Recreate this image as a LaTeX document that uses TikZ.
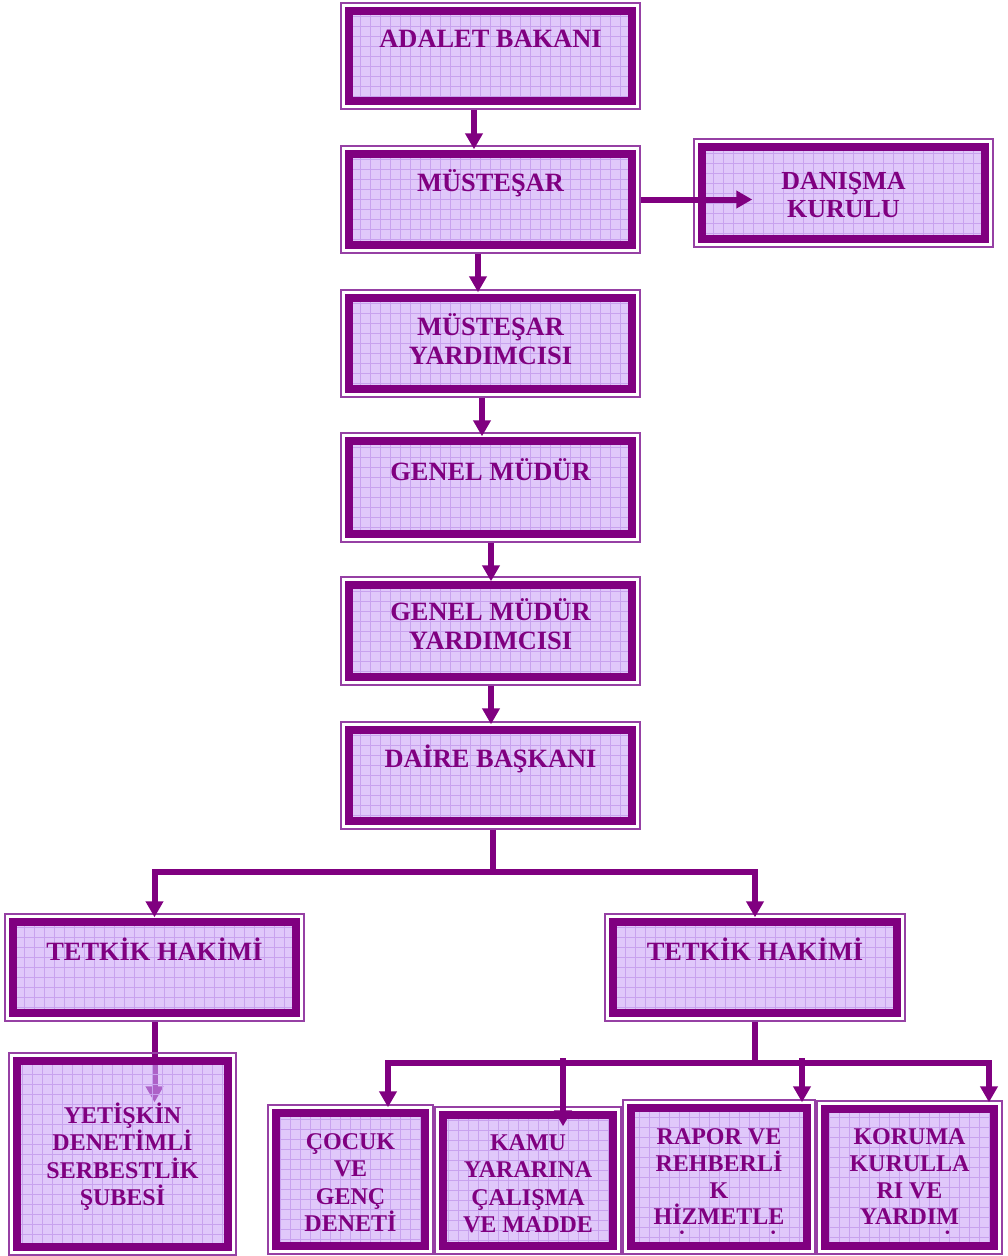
\documentclass[tikz,border=0pt]{standalone}
\usepackage{fontspec}
\setmainfont{Liberation Serif}
\usetikzlibrary{arrows.meta}
\pgfdeclarelayer{background}
\pgfsetlayers{background,main}
\definecolor{purp}{HTML}{800080}
\definecolor{rim}{RGB}{150,64,164}
\definecolor{lav}{HTML}{E0C8FA}
\definecolor{lavT}{HTML}{CBA3F7}
\definecolor{gridc}{HTML}{C8A2EE}
% fixed first-line height so every label hangs from the same point
\newcommand{\lstrut}{\rule{0pt}{0.95em}}

\begin{document}
\begin{tikzpicture}[x=1pt,y=-1pt,
  boxfill/.style={fill=lav},
  orgbox/.style={draw=rim, line width=1.4pt, inner sep=0pt, rectangle,
    path picture={
      \path[boxfill] ([shift={(10pt,-10pt)}]path picture bounding box.north west)
        rectangle ([shift={(-10pt,10pt)}]path picture bounding box.south east);
      \draw[gridc, line width=0.8pt, step=10pt]
        ([shift={(10pt,-10pt)}]path picture bounding box.north west)
        grid ([shift={(-10pt,10pt)}]path picture bounding box.south east);
      \draw[purp, line width=8pt]
        ([shift={(8pt,-8pt)}]path picture bounding box.north west)
        rectangle ([shift={(-8pt,8pt)}]path picture bounding box.south east);
    }},
  toptext/.style={text=purp, font=\bfseries\fontsize{26.4}{29.5}\selectfont,
    align=center, anchor=north, inner sep=0pt},
  bottext/.style={toptext, font=\bfseries\fontsize{24}{27.4}\selectfont},
  line/.style={draw=purp, line width=6pt, line join=miter},
  conn/.style={line, -{Triangle[width=17pt,length=16pt]}},
  conn2/.style={line, {Triangle[width=17pt,length=16pt]}-{Triangle[width=17pt,length=16pt]}}
]
\useasboundingbox (0,0) rectangle (1007,1256);

% central chain of offices
\node[orgbox, minimum width=299pt, minimum height=106pt] (adalet) at (490.5,56) {};
\node[orgbox, minimum width=299pt, minimum height=107pt] (musteshar) at (490.5,199.5) {};
\node[orgbox, minimum width=299pt, minimum height=108pt] (danisma) at (843.5,193) {};
\node[orgbox, minimum width=299pt, minimum height=107pt] (muy) at (490.5,343.5) {};
\node[orgbox, minimum width=299pt, minimum height=109pt] (genel) at (490.5,487.5) {};
\node[orgbox, minimum width=299pt, minimum height=108pt] (gmy) at (490.5,631) {};
\node[orgbox, minimum width=299pt, minimum height=107pt] (daire) at (490.5,775.5) {};
\node[orgbox, minimum width=299pt, minimum height=107pt] (tetkikL) at (154.5,967.5) {};
\node[orgbox, minimum width=300pt, minimum height=107pt] (tetkikR) at (755,967.5) {};

% branch offices
\node[orgbox, boxfill/.style={fill=lavT, fill opacity=0.6},
      minimum width=227pt, minimum height=202pt] (yetiskin) at (122.5,1154) {};
\node[orgbox, minimum width=165pt, minimum height=149pt] (cocuk) at (350.5,1179.5) {};
\node[orgbox, minimum width=186pt, minimum height=147pt] (kamu) at (528,1180.5) {};
\node[orgbox, minimum width=192pt, minimum height=154pt] (rapor) at (719,1177) {};
\node[orgbox, minimum width=185pt, minimum height=153pt] (koruma) at (909.5,1177.5) {};

% labels
\node[toptext] (adalet-t) at ([yshift=-19.6pt]adalet.north) {\lstrut ADALET BAKANI};
\node[toptext] (musteshar-t) at ([yshift=-20.6pt]musteshar.north) {\lstrut MÜSTEŞAR};
\node[toptext, font=\bfseries\fontsize{26}{27.6}\selectfont] (danisma-t) at ([yshift=-26.6pt]danisma.north) {\lstrut DANIŞMA\\KURULU};
\node[toptext] (muy-t) at ([yshift=-20.6pt]muy.north) {\lstrut MÜSTEŞAR\\YARDIMCISI};
\node[toptext] (genel-t) at ([yshift=-22.6pt]genel.north) {\lstrut GENEL MÜDÜR};
\node[toptext] (gmy-t) at ([yshift=-18.6pt]gmy.north) {\lstrut GENEL MÜDÜR\\YARDIMCISI};
\node[toptext] (daire-t) at ([yshift=-20.6pt]daire.north) {\lstrut DAİRE BAŞKANI};
\node[toptext] (tetkikL-t) at ([yshift=-21.6pt]tetkikL.north) {\lstrut TETKİK HAKİMİ};
\node[toptext] (tetkikR-t) at ([yshift=-21.6pt]tetkikR.north) {\lstrut TETKİK HAKİMİ};
\node[bottext] (yetiskin-t) at ([yshift=-48.1pt]yetiskin.north) {\lstrut YETİŞKİN\\DENETİMLİ\\SERBESTLİK\\ŞUBESİ};
\node[bottext] (cocuk-t) at ([yshift=-22.1pt]cocuk.north) {\lstrut ÇOCUK\\VE\\GENÇ\\DENETİ};
\node[bottext] (kamu-t) at ([yshift=-21.1pt]kamu.north) {\lstrut KAMU\\YARARINA\\ÇALIŞMA\\VE MADDE};
% the last line of these two boxes runs past the frame and is cut off
\begin{scope}
  \clip (rapor.north west) rectangle ([yshift=20.8pt]rapor.south east);
  \node[bottext, font=\bfseries\fontsize{24}{26.8}\selectfont] (rapor-t) at ([yshift=-22.1pt]rapor.north) {\lstrut RAPOR VE\\REHBERLİ\\K\\HİZMETLE\\Rİ ŞUBESİ};
\end{scope}
\begin{scope}
  \clip (koruma.north west) rectangle ([yshift=20.8pt]koruma.south east);
  \node[bottext, font=\bfseries\fontsize{24}{26.8}\selectfont] (koruma-t) at ([yshift=-21.1pt]koruma.north) {\lstrut KORUMA\\KURULLA\\RI VE\\YARDIM\\ŞUBESİ};
\end{scope}

% connectors down the chain
\draw[conn, shorten >=-4pt] ([xshift=-16.5pt]adalet.south) -- ([xshift=-16.5pt]musteshar.north);
\draw[conn, shorten >=-3pt] ([xshift=-12.5pt]musteshar.south) -- ([xshift=-12.5pt]muy.north);
\draw[conn, shorten >=-4pt] ([xshift=-8.5pt]muy.south) -- ([xshift=-8.5pt]genel.north);
\draw[conn, shorten >=-5pt] ([xshift=0.5pt]genel.south) -- ([xshift=0.5pt]gmy.north);
\draw[conn, shorten >=-3pt] ([xshift=0.5pt]gmy.south) -- ([xshift=0.5pt]daire.north);
\draw[conn, shorten >=-59pt] (musteshar.east) -- (musteshar.east -| danisma.west);

% split to the two examining judges
\coordinate (bus1) at (493,872);
\draw[line] ([xshift=2.5pt]daire.south) -- (bus1);
\draw[conn2, shorten <=-4pt, shorten >=-4pt] (tetkikL.north) |- (bus1) -| (tetkikR.north);

% left judge to its branch, running under the translucent fill
\begin{pgfonlayer}{background}
  \draw[conn, shorten >=-50pt] (tetkikL.south) -- (tetkikL.south |- yetiskin.north);
\end{pgfonlayer}

% right judge to its four branches
\coordinate (bus2L) at (388,1063);
\coordinate (bus2R) at (989,1063);
\coordinate (kamuStub) at (563,1058);
\coordinate (raporStub) at (802,1058);
\draw[line] (tetkikR.south) -- (tetkikR.south |- bus2L);
\draw[conn2, shorten <=-3pt, shorten >=-2pt] (cocuk.north -| bus2L) |- (bus2R) -- (koruma.north -| bus2R);
\draw[conn, shorten >=-20pt] (kamuStub) -- (kamuStub |- kamu.north);
\draw[conn, shorten >=-3pt] (raporStub) -- (raporStub |- rapor.north);
\end{tikzpicture}
\end{document}
